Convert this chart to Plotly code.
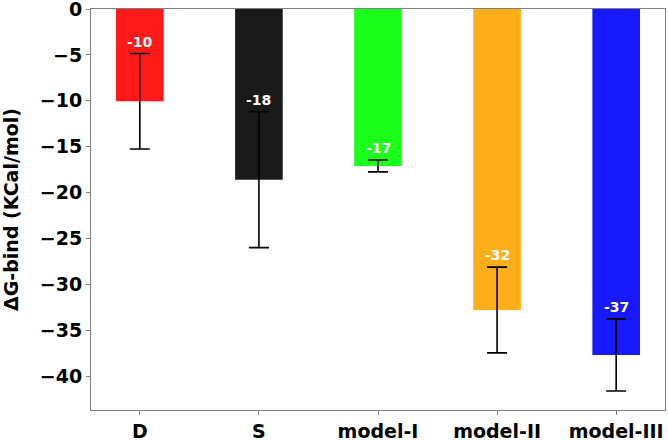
import plotly.graph_objects as go

categories = ["D", "S", "model-I", "model-II", "model-III"]
values = [-10.05, -18.6, -17.1, -32.8, -37.7]
errors = [5.2, 7.4, 0.65, 4.67, 3.93]
labels = ["-10", "-18", "-17", "-32", "-37"]
colors = ["#ff1919", "#1a1a1a", "#19ff19", "#ffae19", "#1919ff"]
yticks = [0, -5, -10, -15, -20, -25, -30, -35, -40]

xs = list(range(len(categories)))

fig = go.Figure()
fig.add_trace(go.Bar(
    x=xs, y=values, width=0.4,
    marker=dict(color=colors, line=dict(width=0)),
    error_y=dict(type="data", array=errors, visible=True, color="black", thickness=1.6, width=10),
    showlegend=False,
))

for x, v, e, t in zip(xs, values, errors, labels):
    fig.add_annotation(x=x, y=v + e, text="<b>" + t + "</b>", showarrow=False,
                       yanchor="bottom", yshift=2,
                       font=dict(family="DejaVu Sans", size=14, color="white"))

def fmt(v):
    return "<b>%d</b>" % v if v == 0 else "<b>\u2212%d</b>" % (-v)

fig.update_layout(
    width=668, height=440,
    margin=dict(l=91, r=3, t=9, b=30, autoexpand=False),
    plot_bgcolor="white", paper_bgcolor="white",
    font=dict(family="DejaVu Sans", size=19, color="black"),
    xaxis=dict(range=[-0.41, 4.41], tickmode="array", tickvals=xs,
               ticktext=["<b>" + c + "</b>" for c in categories],
               tickfont=dict(family="DejaVu Sans", size=19, color="black"),
               showline=True, linecolor="#808080", linewidth=1, mirror=True,
               ticks="outside", ticklen=4, tickcolor="#808080", showgrid=False, zeroline=False,
               automargin=False, ticklabeloverflow="allow"),
    yaxis=dict(range=[-43.7, 0.0], tickmode="array", tickvals=yticks,
               ticktext=[fmt(v) for v in yticks],
               tickfont=dict(family="DejaVu Sans", size=19, color="black"),
               showline=True, linecolor="#808080", linewidth=1, mirror=True,
               ticks="outside", ticklen=4, tickcolor="#808080", showgrid=False, zeroline=False,
               automargin=False, ticklabeloverflow="allow",
               title=dict(text="<b>\u0394G-bind (KCal/mol)</b>", font=dict(size=19), standoff=16)),
)

fig.write_html("out.html", config={"displayModeBar": False},
               post_script="document.body.style.margin='0';document.body.style.padding='0';")
